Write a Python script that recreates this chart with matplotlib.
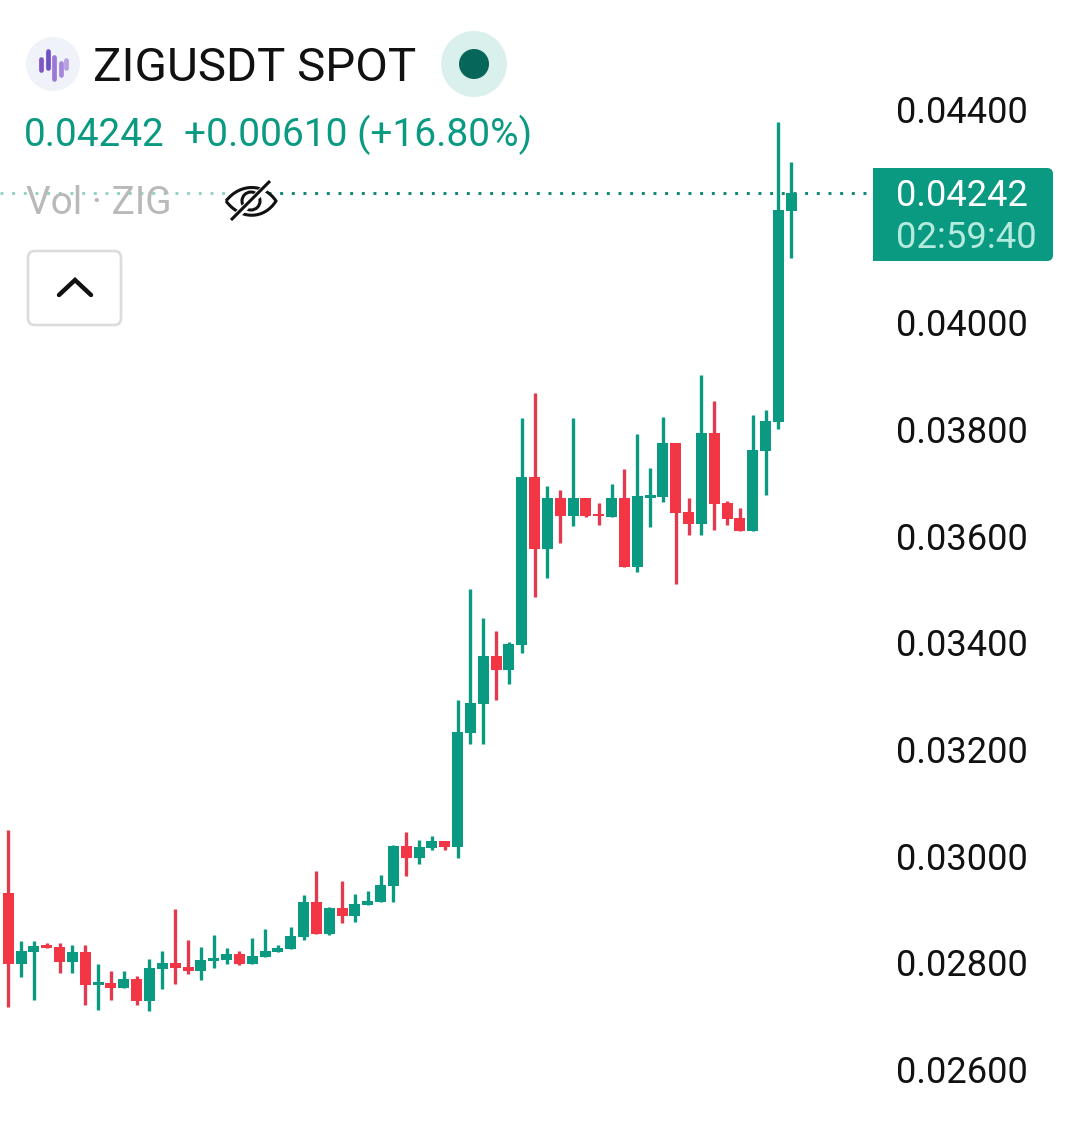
import matplotlib
matplotlib.use("Agg")
import matplotlib.pyplot as plt
from matplotlib.patches import Circle, FancyBboxPatch, Rectangle, PathPatch
from matplotlib.path import Path
from matplotlib.ticker import FormatStrFormatter

plt.rcParams['font.family'] = ['Roboto', 'DejaVu Sans']

GREEN = '#0A9A81'
RED = '#F23645'
RED_WICK = '#E23A4E'
INK = '#111111'

symbol = 'ZIGUSDT SPOT'
last_text = '0.04242'
change_text = '+0.00610 (+16.80%)'
volume_text = 'Vol · ZIG'
countdown = '02:59:40'
last_price = 0.04242
y_ticks = [0.026, 0.028, 0.030, 0.032, 0.034, 0.036, 0.038, 0.040, 0.044]

highs = [0.03048, 0.02840, 0.02840, 0.02836, 0.02836, 0.02832, 0.02832, 0.02797, 0.02784, 0.02784,
         0.02774, 0.02806, 0.02821, 0.02900, 0.02842, 0.02829, 0.02851, 0.02827, 0.02821, 0.02846,
         0.02862, 0.02832, 0.02866, 0.02926, 0.02971, 0.02904, 0.02952, 0.02928, 0.02934, 0.02964,
         0.03020, 0.03044, 0.03029, 0.03037, 0.03027, 0.03292, 0.03500, 0.03446, 0.03421, 0.03401,
         0.03821, 0.03867, 0.03693, 0.03686, 0.03821, 0.03671, 0.03661, 0.03697, 0.03725, 0.03791,
         0.03727, 0.03822, 0.03774, 0.03671, 0.03901, 0.03852, 0.03665, 0.03652, 0.03826, 0.03836,
         0.04376, 0.04301]
body_tops = [0.02930, 0.02821, 0.02831, 0.02832, 0.02829, 0.02819, 0.02819, 0.02763, 0.02761, 0.02769,
             0.02769, 0.02789, 0.02799, 0.02799, 0.02791, 0.02804, 0.02808, 0.02816, 0.02816, 0.02812,
             0.02821, 0.02827, 0.02849, 0.02913, 0.02913, 0.02902, 0.02902, 0.02909, 0.02915, 0.02945,
             0.03018, 0.03018, 0.03016, 0.03027, 0.03027, 0.03232, 0.03286, 0.03374, 0.03374, 0.03397,
             0.03710, 0.03710, 0.03671, 0.03671, 0.03671, 0.03671, 0.03641, 0.03671, 0.03671, 0.03674,
             0.03676, 0.03774, 0.03774, 0.03644, 0.03792, 0.03792, 0.03661, 0.03633, 0.03761, 0.03815,
             0.04211, 0.04242]
body_bottoms = [0.02797, 0.02797, 0.02819, 0.02827, 0.02801, 0.02801, 0.02757, 0.02757, 0.02752, 0.02752,
                0.02727, 0.02727, 0.02787, 0.02789, 0.02784, 0.02784, 0.02802, 0.02804, 0.02797, 0.02797,
                0.02810, 0.02819, 0.02825, 0.02847, 0.02853, 0.02853, 0.02887, 0.02887, 0.02907, 0.02913,
                0.02943, 0.02996, 0.02996, 0.03014, 0.03016, 0.03016, 0.03230, 0.03284, 0.03348, 0.03348,
                0.03395, 0.03575, 0.03575, 0.03637, 0.03637, 0.03637, 0.03637, 0.03635, 0.03541, 0.03541,
                0.03671, 0.03672, 0.03642, 0.03622, 0.03622, 0.03659, 0.03631, 0.03609, 0.03609, 0.03759,
                0.03813, 0.04209]
lows = [0.02716, 0.02772, 0.02729, 0.02827, 0.02780, 0.02780, 0.02720, 0.02711, 0.02729, 0.02752,
        0.02720, 0.02709, 0.02750, 0.02759, 0.02778, 0.02767, 0.02789, 0.02797, 0.02795, 0.02797,
        0.02810, 0.02819, 0.02825, 0.02842, 0.02853, 0.02851, 0.02874, 0.02876, 0.02907, 0.02913,
        0.02913, 0.02962, 0.02984, 0.03011, 0.03011, 0.02996, 0.03209, 0.03209, 0.03292, 0.03322,
        0.03380, 0.03485, 0.03521, 0.03586, 0.03618, 0.03635, 0.03620, 0.03635, 0.03541, 0.03532,
        0.03616, 0.03663, 0.03509, 0.03601, 0.03601, 0.03611, 0.03620, 0.03609, 0.03609, 0.03676,
        0.03800, 0.04121]
directions = ['r','g','g','r','r','g','r','g','r','g',
              'r','g','g','r','r','g','g','g','r','g',
              'g','g','g','g','r','g','r','g','g','g',
              'g','r','g','g','r','g','g','g','r','g',
              'g','r','g','r','g','r','r','g','r','g',
              'g','g','r','r','g','r','r','r','g','g',
              'g','g']

W, H = 1080, 1123
fig = plt.figure(figsize=(W / 100, H / 100), dpi=100, facecolor='white')

# price chart: axes end where the price scale labels begin
AX_RIGHT = 896
ax = fig.add_axes([0, 0, AX_RIGHT / W, 1])
spacing = 12.836
ax.set_xlim(-8.3 / spacing, (AX_RIGHT - 8.3) / spacing)
ax.set_ylim(0.04604375 - H * 0.00001875, 0.04604375)
for s in ax.spines.values():
    s.set_visible(False)
ax.xaxis.set_visible(False)
ax.yaxis.tick_right()
ax.set_yticks(y_ticks)
ax.yaxis.set_major_formatter(FormatStrFormatter('%.5f'))
ax.tick_params(axis='y', length=0, pad=0, labelsize=26.1, labelcolor=INK)

xs = list(range(len(highs)))
cols = [GREEN if d == 'g' else RED for d in directions]
wick_cols = [GREEN if d == 'g' else RED_WICK for d in directions]
ax.vlines(xs, lows, highs, colors=wick_cols, linewidth=2.4, capstyle='butt', zorder=2)
ax.bar(xs, [t - b for t, b in zip(body_tops, body_bottoms)], bottom=body_bottoms,
       width=11 / spacing, color=cols, linewidth=0, zorder=3)

# last-price dotted line (fades under the legend)
split = (268 - 8.3) / spacing
end = (873 - 8.3) / spacing
ax.hlines(last_price, split, end, colors='#0B8572', linewidth=2.1,
          linestyles=[(0, (1.0, 3.0))], zorder=1)
ax.hlines(last_price, -8.3 / spacing, split, colors=GREEN, linewidth=2.1, alpha=0.45,
          linestyles=[(0, (1.0, 3.0))], zorder=1)

# overlay in screen pixels for the UI furniture
ui = fig.add_axes([0, 0, 1, 1], facecolor='none')
ui.set_xlim(0, W)
ui.set_ylim(H, 0)
ui.axis('off')

ui.add_patch(Circle((53, 64), 27, fc='#f0f2fa', ec='none'))
for x, y0, y1, c in [(41, 59, 70, '#7e57c2'), (48, 51, 68, '#6f51c6'), (54, 57, 79, '#9a78d6'),
                     (60.5, 63, 75, '#a785dd'), (66, 60, 68, '#b7a0e2')]:
    ui.plot([x, x], [y0, y1], color=c, lw=3.4, solid_capstyle='round')
ui.text(93, 81, symbol, fontsize=34.2, color=INK, ha='left', va='baseline')
ui.add_patch(Circle((474, 64), 33, fc='#daf0ec', ec='none'))
ui.add_patch(Circle((474, 64), 15, fc='#06665a', ec='none'))
ui.text(24, 146, last_text, fontsize=27.9, color=GREEN, ha='left', va='baseline')
ui.text(184, 146, change_text, fontsize=28.0, color=GREEN, ha='left', va='baseline')
ui.text(26, 214, volume_text, fontsize=27.9, color='#b9b9b9', ha='left', va='baseline')

# hidden-eye icon
eye = Path([(226, 201), (240, 183), (264, 183), (276, 201), (264, 220), (240, 220), (226, 201)],
           [Path.MOVETO, Path.CURVE4, Path.CURVE4, Path.CURVE4, Path.CURVE4, Path.CURVE4, Path.CURVE4])
ui.add_patch(PathPatch(eye, fc='white', ec=INK, lw=2.2))
ui.add_patch(Circle((251, 201), 9, fc='none', ec=INK, lw=2.2))
ui.plot([231, 271], [221, 182], color='white', lw=5, solid_capstyle='butt')
ui.plot([231, 270], [220, 181], color=INK, lw=2.2, solid_capstyle='butt')

# collapse button
ui.add_patch(FancyBboxPatch((28, 251), 93, 74, boxstyle='round,pad=0,rounding_size=7',
                            fc='white', ec='#dcdcdc', lw=1.9))
ui.plot([59, 75, 91], [295, 280, 295], color=INK, lw=3.2, solid_capstyle='round',
        solid_joinstyle='miter')

# last price tag
ui.add_patch(FancyBboxPatch((873, 168), 180, 93, boxstyle='round,pad=0,rounding_size=6',
                            fc=GREEN, ec='none'))
ui.add_patch(Rectangle((873, 168), 20, 93, fc=GREEN, ec='none'))
ui.text(896, 206, last_text, fontsize=26.1, color='white', ha='left', va='baseline')
ui.text(896, 248, countdown, fontsize=26.3, color='#b5ebdf', ha='left', va='baseline')

fig.savefig('out.png', dpi=100, facecolor='white')
